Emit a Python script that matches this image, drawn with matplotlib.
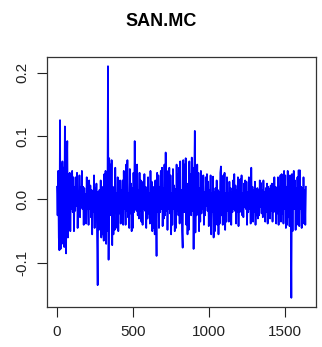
import numpy as np
import matplotlib
matplotlib.use("Agg")
import matplotlib.pyplot as plt

# daily returns of SAN.MC (thousandths), one value every 4 days
returns_milli = """
20 -25 45 -60 -80 125 -78 55 -70 60
-65 50 -75 115 -55 -85 45 92 -60 40
-25 42 -50 18 -15 45 -20 35 -50 20
-18 35 -10 42 -45 12 -15 38 -28 20
-12 45 -15 20 -40 18 -32 8 -38 35
-15 12 -40 30 -15 22 -28 15 -55 10
-20 38 -45 18 -20 25 -50 -135 12 -48
15 -40 30 -60 20 -55 18 -65 40 -20
45 -70 20 -50 210 -95 65 -20 55 -25
62 -72 20 -55 15 -48 50 -20 10 -45
35 -50 18 -22 30 -38 15 -15 30 -40
45 -15 20 -40 55 -18 62 -28 10 -45
48 -22 25 -50 18 -45 42 -20 92 -15
40 -18 55 -25 15 -30 42 -18 30 -35
12 -40 28 -15 40 -18 20 -45 15 -30
35 -22 10 -38 45 -15 28 -50 20 -45
15 -55 30 -18 -89 42 -20 38 -45 20
-20 45 -15 50 -42 18 -30 55 -25 74
-18 45 -48 20 -15 50 -22 38 -55 10
-40 48 -15 22 -50 16 -45 55 -18 40
-25 50 -38 60 -22 15 -48 -76 62 -20
55 -20 65 -40 25 -55 18 -48 60 -22
40 -25 66 -18 50 -78 25 108 -52 28
-25 55 -20 42 -50 18 -35 45 -22 20
-15 38 -40 12 -25 35 -10 40 -18 28
-42 15 -20 38 -55 10 -20 36 -60 12
-50 18 -25 30 -40 15 -55 12 -38 42
52 -25 15 -40 38 -10 42 -48 10 -35
35 -18 10 -35 28 -12 18 -40 12 -20
30 -15 40 -18 22 -38 15 -20 35 -42
18 -20 32 -15 38 -25 10 -28 25 -12
30 -15 28 -40 12 -20 35 -15 20 -38
50 -18 20 -35 15 -20 28 -40 12 -25
18 -30 15 -25 30 -12 26 -22 14 -28
30 -15 12 -35 18 -20 25 -38 20 -12
16 -30 22 -18 25 -35 18 -20 35 -15
20 -38 18 -22 35 -40 20 -18 38 -35
40 -22 12 -38 45 -15 38 -45 20 -40
45 -28 15 -42 38 -25 -155 40 -50 22
45 -15 30 -48 18 -40 35 -20 46 -42
46 -15 20 -45 18 -38 35 -20 15 -40
20
"""
returns = np.array(returns_milli.split(), dtype=float) / 1000.0
day = 1 + 4 * np.arange(len(returns))

xticks = [0, 500, 1000, 1500]
yticks = [-0.1, 0.0, 0.1, 0.2]

plt.rcParams['font.family'] = ['Liberation Sans', 'DejaVu Sans']

fig = plt.figure(figsize=(3.22, 3.47), dpi=100)
ax = fig.add_axes([0.146, 0.115, 0.835, 0.721])

ax.plot(day, returns, color="#0000ff", linewidth=1.25)

span = day.max() - day.min()
ax.set_xlim(day.min() - 0.04 * span, day.max() + 0.04 * span)
yspan = returns.max() - returns.min()
ax.set_ylim(returns.min() - 0.04 * yspan, returns.max() + 0.04 * yspan)

ax.set_xticks(xticks)
ax.set_xticklabels([str(t) for t in xticks])
ax.set_yticks(yticks)
ax.set_yticklabels(["-0.1", "0.0", "0.1", "0.2"], rotation=90, va="center")
ax.tick_params(direction="out", length=7, width=0.8, labelsize=11, pad=6, colors="#222222")

for s in ax.spines.values():
    s.set_color("#333333")
    s.set_linewidth(0.9)

fig.text(0.5, 0.937, "SAN.MC", ha="center", va="center", fontsize=13, fontweight="bold")

fig.savefig("out.png", dpi=100)
